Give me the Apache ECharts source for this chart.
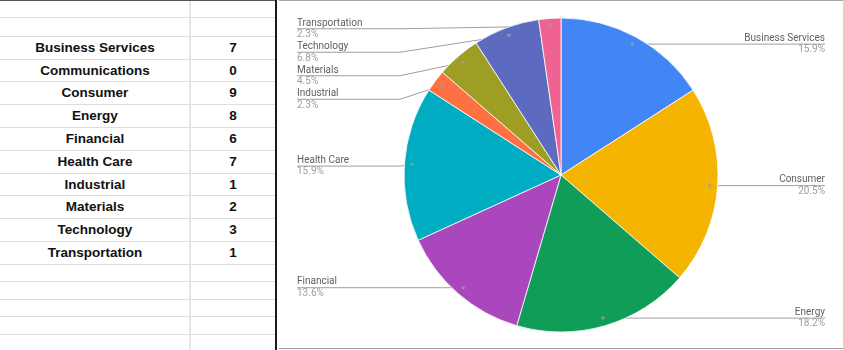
<!DOCTYPE html>
<html>
<head>
<meta charset="utf-8">
<script src="https://cdn.jsdelivr.net/npm/echarts@6/dist/echarts.min.js"></script>
<style>
  html, body { margin: 0; padding: 0; background: #fff; width: 843px; height: 350px; overflow: hidden; }
  body { position: relative; }
  .line { position: absolute; }
  .cell {
    position: absolute;
    font: bold 13.5px "Liberation Sans", Arial, sans-serif;
    color: #111;
    text-align: center;
    white-space: nowrap;
  }
  #chart { position: absolute; left: 279px; top: 0; width: 564px; height: 350px; }
</style>
</head>
<body>
<div id="sheet"></div>
<div id="chart"></div>
<script>
// Sector counts by industry
const categories = [
  'Business Services', 'Communications', 'Consumer', 'Energy', 'Financial',
  'Health Care', 'Industrial', 'Materials', 'Technology', 'Transportation'
];
const counts = [7, 0, 9, 8, 6, 7, 1, 2, 3, 1];
const sliceColors = [
  '#4285f4', '#db4437', '#f4b400', '#0f9d58', '#ab47bc',
  '#00acc1', '#ff7043', '#9e9d24', '#5c6bc0', '#f06292'
];

// ---- spreadsheet grid on the left ----
const ROW_LINES = [17, 36, 59, 81, 104, 127, 150, 173, 195, 218, 241, 264, 281, 299, 316, 334];
const COL_SPLIT = 190;
const SHEET_W = 276;
const sheet = document.getElementById('sheet');

function addLine(left, top, width, height, color) {
  const d = document.createElement('div');
  d.className = 'line';
  d.style.cssText = `left:${left}px;top:${top}px;width:${width}px;height:${height}px;background:${color}`;
  sheet.appendChild(d);
}
ROW_LINES.forEach(y => addLine(0, y, SHEET_W, 1, '#dedede'));
addLine(COL_SPLIT - 1, 0, 2, 350, '#e6e6e6');
addLine(0, 0, 277, 1, '#555');
addLine(275, 0, 2, 350, '#1a1a1a');
// frame of the chart panel
addLine(279, 0, 564, 1, '#a8a8a8');
addLine(279, 348, 564, 1, '#9e9e9e');

categories.forEach((name, i) => {
  const top = ROW_LINES[1 + i];
  const h = ROW_LINES[2 + i] - top;
  const a = document.createElement('div');
  a.className = 'cell';
  a.style.cssText = `left:0;top:${top}px;width:${COL_SPLIT}px;height:${h}px;line-height:${h + 1}px`;
  a.textContent = name;
  sheet.appendChild(a);
  const b = document.createElement('div');
  b.className = 'cell';
  b.style.cssText = `left:${COL_SPLIT}px;top:${top}px;width:${SHEET_W - COL_SPLIT}px;height:${h}px;line-height:${h + 1}px`;
  b.textContent = String(counts[i]);
  sheet.appendChild(b);
});

// ---- pie chart ----
const PIE_CX = 282, PIE_CY = 175, PIE_R = 157;
const DOT_FRAC = 0.95;
const LABEL_TOP = 17;   // labels are kept below this line

const pieItems = categories
  .map((name, i) => ({ name, value: counts[i], itemStyle: { color: sliceColors[i] } }))
  .filter(d => d.value > 0);
const total = pieItems.reduce((s, d) => s + d.value, 0);

// anchor dots sit at the middle angle of each slice
let acc = 0;
const dotData = pieItems.map(d => {
  const mid = acc + d.value / 2;
  acc += d.value;
  return [DOT_FRAC, mid];
});

const chart = echarts.init(document.getElementById('chart'), null, { renderer: 'canvas' });
chart.setOption({
  animation: false,
  polar: { center: [PIE_CX, PIE_CY], radius: PIE_R },
  angleAxis: { type: 'value', min: 0, max: total, startAngle: 90, clockwise: true, show: false },
  radiusAxis: { type: 'value', min: 0, max: 1, show: false },
  series: [
    {
      type: 'pie',
      silent: true,
      center: [PIE_CX, PIE_CY],
      radius: PIE_R,
      startAngle: 90,
      clockwise: true,
      label: { show: false },
      labelLine: { show: false },
      itemStyle: { borderColor: '#fff', borderWidth: 0.8 },
      data: pieItems
    },
    {
      type: 'pie',
      silent: true,
      left: 0,
      right: 0,
      top: LABEL_TOP,
      bottom: 0,
      center: [PIE_CX, PIE_CY - LABEL_TOP],
      radius: PIE_R * DOT_FRAC,
      startAngle: 90,
      clockwise: true,
      percentPrecision: 1,
      itemStyle: { color: 'rgba(0,0,0,0)', borderWidth: 0 },
      label: {
        show: true,
        position: 'outside',
        alignTo: 'edge',
        edgeDistance: 18,
        formatter: '{n|{b}}\n{p|{d}%}',
        rich: {
          n: { fontFamily: 'Roboto', fontSize: 10, color: '#5f5f5f', lineHeight: 11.5 },
          p: { fontFamily: 'Roboto', fontSize: 10, color: '#9e9e9e', lineHeight: 11.5 }
        }
      },
      labelLine: {
        show: true,
        length: 0,
        length2: 0,
        lineStyle: { color: '#9e9e9e', width: 1 }
      },
      labelLayout: function (params) {
        const pts = params.labelLinePoints;
        if (!pts) return {};
        const rect = params.labelRect;
        const isLeft = rect.x + rect.width / 2 < PIE_CX;
        const y = rect.y + rect.height / 2;
        const dot = pts[0];
        const bendX = isLeft
          ? Math.min(dot[0], PIE_CX - PIE_R - 4)
          : Math.max(dot[0], PIE_CX + PIE_R + 4);
        const endX = isLeft ? rect.x : rect.x + rect.width;
        return { labelLinePoints: [[dot[0], dot[1]], [bendX, y], [endX, y]] };
      },
      data: pieItems.map(d => ({ name: d.name, value: d.value }))
    },
    {
      type: 'scatter',
      coordinateSystem: 'polar',
      silent: true,
      symbolSize: 3.5,
      itemStyle: { color: '#9e9e9e' },
      data: dotData,
      z: 5
    }
  ]
});
</script>
</body>
</html>
